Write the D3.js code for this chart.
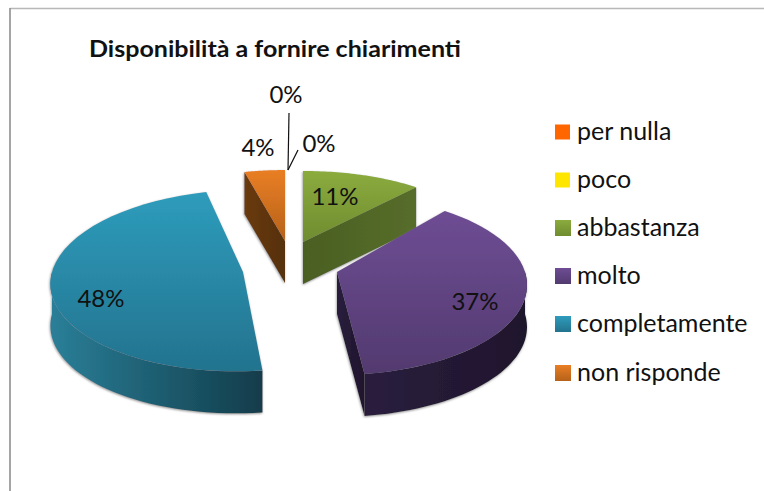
<!DOCTYPE html>
<html><head><meta charset="utf-8">
<script src="https://cdnjs.cloudflare.com/ajax/libs/d3/7.8.5/d3.min.js"></script>
<style>html,body{margin:0;padding:0;background:#fff}svg{display:block}text{font-family:Lato,Carlito,"Open Sans",sans-serif;fill:#111}</style>
</head><body><svg id="c" width="764" height="491"></svg>
<script>
const categories = ["per nulla","poco","abbastanza","molto","completamente","non risponde"];
const values = [0,0,11,37,48,4];
const title = "Disponibilità a fornire chiarimenti";
const topLight = ["#ff6600","#ffe600","#8bab3e","#6e4d94","#2e9cbc","#e97e24"];
const topDark  = ["#ff6600","#ffe600","#6f8c2f","#523a6f","#23738e","#b5621a"];
const wallLight= ["#ff6600","#ffe600","#4a5f22","#2a1e3e","#2a7f98","#6a3a10"];
const wallDark = ["#ff6600","#ffe600","#566d2a","#1f152c","#123c4a","#55300e"];
// layout of each exploded slice: apex, radii, perspective, shear
const apexX=[294,294,303,337,243,285], apexY=[242,242,242,272,272,241];
const radX=[190,190,177.5,188,191,190], radY=[83,83,71,88,90,83], persp=[.17,.17,0,.145,.094,.17], shear=[0,0,0,0,-7,0];
const depth=42;
const labelX=[286,319,335,475,101,258], labelY=[95,144,197,302,299,148];
const legendY=[132,180,228,276,324,373];

const svg=d3.select("#c"), defs=svg.append("defs");
const shadow=defs.append("filter").attr("id","sh").attr("x","-10%").attr("y","-10%").attr("width","120%").attr("height","125%");
shadow.append("feDropShadow").attr("dx",-0.5).attr("dy",1).attr("stdDeviation",1.2).attr("flood-color","#777").attr("flood-opacity",.8);
function grad(id,c0,c1,horizontal){
  const g=defs.append("linearGradient").attr("id",id).attr("x1",0).attr("y1",0).attr("x2",horizontal?1:0).attr("y2",horizontal?0:1);
  g.append("stop").attr("offset",0).attr("stop-color",c0);
  g.append("stop").attr("offset",1).attr("stop-color",c1);
}
// frame
svg.append("line").attr("x1",10).attr("y1",8.5).attr("x2",764).attr("y2",8.5).attr("stroke","#b8b8b8").attr("stroke-width",1.5);
svg.append("line").attr("x1",10).attr("y1",8).attr("x2",10).attr("y2",491).attr("stroke","#8e8e8e").attr("stroke-width",1.6);
svg.append("text").attr("x",89).attr("y",57).attr("font-size",23).attr("font-weight",700).attr("textLength",372).attr("lengthAdjust","spacingAndGlyphs").text(title);

const arcs=d3.pie().sort(null).value(d=>d)(values);
const line=d3.line();
const PI=Math.PI;
function proj(i,t,r=1){const u=r*Math.sin(t),v=-r*Math.cos(t),den=1-persp[i]*v;
  return [apexX[i]+radX[i]*u/den+shear[i]*v, apexY[i]+radY[i]*v/den];}
const down=p=>[p[0],p[1]+depth];
const rimT=(a,b)=>d3.range(0,41).map(k=>a+(b-a)*k/40);

[5,2,4,3].forEach(i=>{
  const a=arcs[i]; if(a.value===0) return;
  const g=svg.append("g").attr("filter","url(#sh)");
  grad("t"+i,topLight[i],topDark[i],false); grad("w"+i,wallLight[i],wallDark[i],true);
  const apex=proj(i,0,0), a0=a.startAngle, a1=a.endAngle;
  // cut walls facing the viewer
  [[a0,Math.sin(a0)<-1e-6],[a1,Math.sin(a1)>1e-6]].forEach(([t,vis])=>{
    if(!vis) return;
    const e=proj(i,t);
    g.append("path").attr("d",line([apex,e,down(e),down(apex)])+"Z").attr("fill",`url(#w${i})`);
  });
  // outer wall (front half of the rim)
  const w0=Math.max(a0,PI/2), w1=Math.min(a1,3*PI/2);
  if(w1>w0){
    const up=rimT(w0,w1).map(t=>proj(i,t));
    g.append("path").attr("d",line(up.concat(up.slice().reverse().map(down)))+"Z").attr("fill",`url(#w${i})`);
  }
  // top face
  g.append("path").attr("d",line([apex].concat(rimT(a0,a1).map(t=>proj(i,t))))+"Z").attr("fill",`url(#t${i})`);
});

// leader lines of the zero slices
[[289,113,288,170],[298,150,288,170]].forEach(l=>svg.append("line").attr("x1",l[0]).attr("y1",l[1]).attr("x2",l[2]).attr("y2",l[3]).attr("stroke","#111").attr("stroke-width",1.2));
// value labels
svg.selectAll("text.v").data(values).join("text").attr("class","v")
  .attr("x",(d,i)=>labelX[i]).attr("y",(d,i)=>labelY[i]).attr("dy","0.35em").attr("text-anchor","middle")
  .attr("font-size",24).text(d=>d+"%");
// legend
categories.forEach((c,i)=>{
  const s=i<2?15:16;
  grad("l"+i,topLight[i],topDark[i],false);
  svg.append("rect").attr("x",555).attr("y",legendY[i]-s/2).attr("width",s).attr("height",s).attr("fill",`url(#l${i})`);
  svg.append("text").attr("x",577).attr("y",legendY[i]).attr("dy","0.33em").attr("font-size",25).text(c);
});
</script></body></html>
